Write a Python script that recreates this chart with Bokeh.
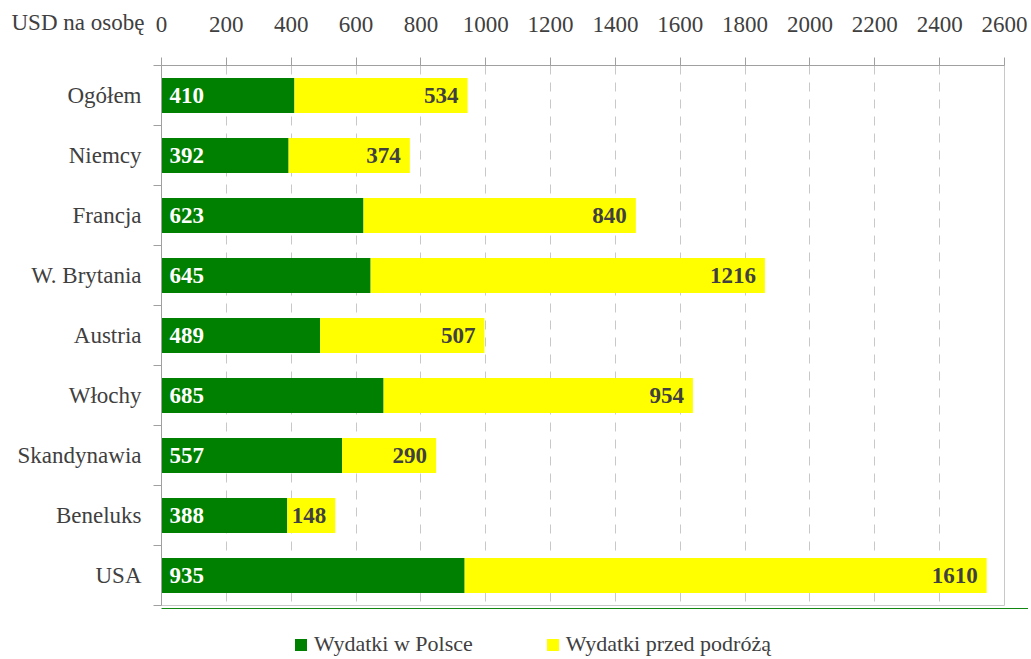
from bokeh.plotting import figure
from bokeh.layouts import column
from bokeh.models import (ColumnDataSource, Range1d, FixedTicker, Legend, LegendItem)
from bokeh.core.properties import value
from bokeh.embed import file_html
from bokeh.resources import INLINE

categories = ["Ogółem", "Niemcy", "Francja", "W. Brytania", "Austria", "Włochy",
              "Skandynawia", "Beneluks", "USA"]
w_polsce = [410, 392, 623, 645, 489, 685, 557, 388, 935]
przed_podroza = [534, 374, 840, 1216, 507, 954, 290, 148, 1610]
x_ticks = list(range(0, 2601, 200))
series_names = ["Wydatki w Polsce", "Wydatki przed podróżą"]
axis_title = "USD na osobę"

GREEN = "#008000"
YELLOW = "#ffff00"
TXT = "#404040"
FONT = "Liberation Serif"

n = len(categories)
ypos = [i + 0.5 for i in range(n)]
totals = [a + b for a, b in zip(w_polsce, przed_podroza)]
src = ColumnDataSource(dict(y=ypos, cat=categories, pl=w_polsce, pre=przed_podroza,
                            tot=totals,
                            pl_s=[str(v) for v in w_polsce],
                            pre_s=[str(v) for v in przed_podroza]))

p = figure(width=1028, height=608, frame_width=843, frame_height=540,
           output_backend="svg", toolbar_location=None,
           x_range=Range1d(0, 2600), y_range=Range1d(n, 0),
           x_axis_location="above", min_border_left=161, min_border_right=24,
           min_border_top=65, min_border_bottom=3,
           title=axis_title, title_location="above")
p.background_fill_color = "white"
p.border_fill_color = "white"
p.outline_line_color = "#c8c8c8"
p.title.align = "left"
p.title.offset = -150
p.title.standoff = -43
p.title.text_font = FONT
p.title.text_font_size = "23px"
p.title.text_font_style = "normal"
p.title.text_color = TXT

rs = p.hbar_stack(["pl", "pre"], y="y", height=0.58, source=src,
                  color=[GREEN, YELLOW], line_color=None)

p.text(x=0, y="y", text="pl_s", source=src, x_offset=8, text_align="left",
       text_baseline="middle", text_color="white", text_font=value(FONT),
       text_font_size="23px", text_font_style="bold")
p.text(x="tot", y="y", text="pre_s", source=src, x_offset=-9, text_align="right",
       text_baseline="middle", text_color=TXT, text_font=value(FONT),
       text_font_size="23px", text_font_style="bold")

xa = p.xaxis[0]
xa.ticker = FixedTicker(ticks=x_ticks, minor_ticks=[])
xa.major_tick_out = 8
xa.major_tick_in = 0
xa.minor_tick_line_color = None
xa.axis_line_color = "#a0a0a0"
xa.major_tick_line_color = "#a0a0a0"
xa.major_label_text_font = FONT
xa.major_label_text_font_size = "23px"
xa.major_label_text_color = TXT
xa.major_label_standoff = 26

ya = p.yaxis[0]
ya.ticker = FixedTicker(ticks=ypos, minor_ticks=list(range(n + 1)))
ya.major_label_overrides = {y: c for y, c in zip(ypos, categories)}
ya.major_tick_out = 0
ya.major_tick_in = 0
ya.major_tick_line_color = None
ya.minor_tick_out = 8
ya.minor_tick_in = 0
ya.minor_tick_line_color = "#a0a0a0"
ya.axis_line_color = "#a0a0a0"
ya.major_label_text_font = FONT
ya.major_label_text_font_size = "23px"
ya.major_label_text_color = TXT
ya.major_label_standoff = 12

p.ygrid.grid_line_color = None
p.xgrid.grid_line_color = "#c8c8c8"
p.xgrid.grid_line_dash = "9 8"

# legend strip below the chart (its own bars lie outside its visible range)
pl = figure(width=1028, height=50, frame_width=1028, frame_height=50,
            output_backend="svg", toolbar_location=None, min_border=0,
            x_range=Range1d(0, 1), y_range=Range1d(-2, -1),
            x_axis_type=None, y_axis_type=None)
pl.outline_line_color = None
pl.grid.visible = False
pl.background_fill_color = "white"
pl.border_fill_color = "white"
lr = pl.hbar_stack(["pl", "pre"], y="y", height=0.58, source=src,
                   color=[GREEN, YELLOW], line_color=None)

legend = Legend(items=[LegendItem(label=series_names[0], renderers=[lr[0]]),
                       LegendItem(label=series_names[1], renderers=[lr[1]])],
                orientation="horizontal", location=(293, 1),
                glyph_width=15, glyph_height=15, label_standoff=6, spacing=72,
                padding=0, margin=0, border_line_color=None,
                background_fill_alpha=0, label_text_font=FONT,
                label_text_font_size="22px", label_text_color=TXT)
pl.add_layout(legend, "center")

layout = column(p, pl, spacing=0)
open("out.html", "w").write(file_html(layout, INLINE))
